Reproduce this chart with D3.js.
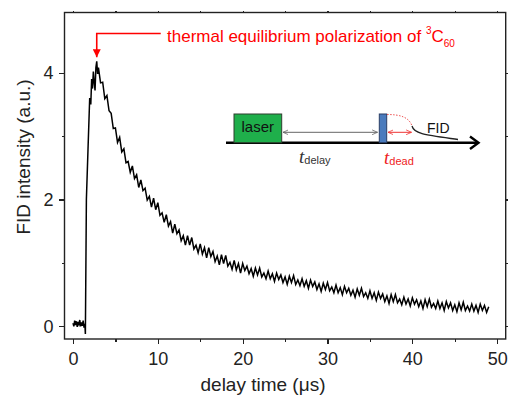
<!DOCTYPE html>
<html lang="en">
<head>
<meta charset="UTF-8">
<title>FID intensity vs delay time</title>
<style>
  body { margin: 0; background: #fff; }
  svg { display: block; font-family: "Liberation Sans", Arial, sans-serif; }
  .axis path { display: none; }
  .axis line { stroke: #222; stroke-width: 1.2; shape-rendering: crispEdges; }
  .axis text { font-size: 18px; fill: #222; }
</style>
</head>
<body>
<svg id="chart"></svg>
<script src="https://cdnjs.cloudflare.com/ajax/libs/d3/7.8.5/d3.min.js"></script>
<script>
// delay time (us) of each sample
var delayTime = [
  0.0, 0.1, 0.2, 0.3, 0.4, 0.5, 0.6, 0.7, 0.8, 0.9, 1.0, 1.1, 1.2, 1.3, 1.4,
  1.46, 1.58, 1.77, 1.97, 2.1, 2.2, 2.3, 2.4, 2.5, 2.6, 2.7, 2.8, 2.9,
  3.0, 3.25, 3.5, 3.75, 4.0, 4.25, 4.5, 4.75, 5.0, 5.25, 5.5, 5.75,
  6.0, 6.25, 6.5, 6.75, 7.0, 7.25, 7.5, 7.75, 8.0, 8.25, 8.5, 8.75,
  9.0, 9.25, 9.5, 9.75, 10.0, 10.25, 10.5, 10.75, 11.0, 11.25, 11.5, 11.75,
  12.0, 12.25, 12.5, 12.75, 13.0, 13.25, 13.5, 13.75, 14.0, 14.25, 14.5, 14.75,
  15.0, 15.25, 15.5, 15.75, 16.0, 16.25, 16.5, 16.75, 17.0, 17.25, 17.5, 17.75,
  18.0, 18.25, 18.5, 18.75, 19.0, 19.25, 19.5, 19.75, 20.0, 20.25, 20.5, 20.75,
  21.0, 21.25, 21.5, 21.75, 22.0, 22.25, 22.5, 22.75, 23.0, 23.25, 23.5, 23.75,
  24.0, 24.25, 24.5, 24.75, 25.0, 25.25, 25.5, 25.75, 26.0, 26.25, 26.5, 26.75,
  27.0, 27.25, 27.5, 27.75, 28.0, 28.25, 28.5, 28.75, 29.0, 29.25, 29.5, 29.75,
  30.0, 30.25, 30.5, 30.75, 31.0, 31.25, 31.5, 31.75, 32.0, 32.25, 32.5, 32.75,
  33.0, 33.25, 33.5, 33.75, 34.0, 34.25, 34.5, 34.75, 35.0, 35.25, 35.5, 35.75,
  36.0, 36.25, 36.5, 36.75, 37.0, 37.25, 37.5, 37.75, 38.0, 38.25, 38.5, 38.75,
  39.0, 39.25, 39.5, 39.75, 40.0, 40.25, 40.5, 40.75, 41.0, 41.25, 41.5, 41.75,
  42.0, 42.25, 42.5, 42.75, 43.0, 43.25, 43.5, 43.75, 44.0, 44.25, 44.5, 44.75,
  45.0, 45.25, 45.5, 45.75, 46.0, 46.25, 46.5, 46.75, 47.0, 47.25, 47.5, 47.75,
  48.0, 48.25, 48.5, 48.75, 49.0
];

// FID intensity (a.u.) at each delay time
var fidSignal = [
  0.05, 0.00, 0.09, 0.02, 0.08, -0.01, 0.07, 0.03, 0.10, 0.00, 0.06, 0.01, 0.09, -0.02, 0.04,
  -0.12, 2.00, 2.79, 3.60, 3.50, 3.90, 3.75, 4.02, 3.85, 3.72, 4.08, 4.18, 3.98,
  4.08, 3.84, 3.85, 3.59, 3.64, 3.40, 3.36, 3.12, 3.13, 2.90, 2.98, 2.75,
  2.80, 2.58, 2.60, 2.43, 2.53, 2.33, 2.39, 2.19, 2.31, 2.14, 2.18, 1.99,
  2.05, 1.88, 2.02, 1.84, 1.95, 1.75, 1.79, 1.64, 1.76, 1.58, 1.65, 1.47,
  1.61, 1.46, 1.52, 1.35, 1.43, 1.28, 1.43, 1.28, 1.40, 1.22, 1.28, 1.16,
  1.30, 1.14, 1.24, 1.08, 1.24, 1.10, 1.18, 1.02, 1.11, 0.97, 1.13, 0.99,
  1.12, 0.95, 1.01, 0.90, 1.04, 0.89, 0.99, 0.84, 0.99, 0.88, 0.95, 0.83,
  0.91, 0.79, 0.92, 0.81, 0.92, 0.78, 0.84, 0.75, 0.87, 0.75, 0.83, 0.71,
  0.84, 0.74, 0.81, 0.69, 0.78, 0.66, 0.79, 0.69, 0.80, 0.66, 0.73, 0.64,
  0.75, 0.63, 0.72, 0.60, 0.73, 0.63, 0.70, 0.58, 0.67, 0.55, 0.68, 0.58,
  0.69, 0.56, 0.62, 0.53, 0.65, 0.53, 0.61, 0.50, 0.63, 0.53, 0.60, 0.49,
  0.57, 0.46, 0.59, 0.49, 0.60, 0.47, 0.53, 0.44, 0.56, 0.44, 0.53, 0.41,
  0.54, 0.44, 0.51, 0.39, 0.48, 0.36, 0.50, 0.39, 0.50, 0.37, 0.43, 0.34,
  0.46, 0.35, 0.43, 0.32, 0.45, 0.35, 0.42, 0.31, 0.40, 0.28, 0.42, 0.31,
  0.43, 0.30, 0.36, 0.28, 0.40, 0.28, 0.37, 0.25, 0.39, 0.29, 0.37, 0.25,
  0.34, 0.23, 0.37, 0.26, 0.38, 0.25, 0.32, 0.24, 0.35, 0.24, 0.33, 0.22,
  0.35, 0.25, 0.33, 0.22, 0.31
];

var xMajorTicks = [0, 10, 20, 30, 40, 50];
var xMinorTicks = [5, 15, 25, 35, 45];
var yMajorTicks = [0, 2, 4];
var yMinorTicks = [1, 3];

var totalWidth = 508,
  totalHeight = 397;
var margin = { top: 12.5, right: 2.3, bottom: 58, left: 64.5 },
  width = totalWidth - margin.left - margin.right,
  height = totalHeight - margin.top - margin.bottom;

var svg = d3.select("#chart")
  .attr("width", totalWidth)
  .attr("height", totalHeight);

var chart = svg.append("g")
  .attr("transform", "translate(" + margin.left + "," + margin.top + ")");

var x = d3.scaleLinear().domain([-1, 51]).range([0, width]);
var y = d3.scaleLinear().domain([-0.2, 4.95]).range([height, 0]);

// axes
chart.append("g")
  .attr("class", "axis")
  .attr("transform", "translate(0," + height + ")")
  .call(d3.axisBottom(x).tickValues(xMajorTicks).tickSize(5).tickPadding(8).tickFormat(d3.format("d")));
chart.append("g")
  .attr("class", "axis")
  .attr("transform", "translate(0," + height + ")")
  .call(d3.axisBottom(x).tickValues(xMinorTicks).tickSize(3).tickFormat(""));
chart.append("g")
  .attr("class", "axis")
  .call(d3.axisTop(x).tickValues(xMajorTicks.concat(xMinorTicks)).tickSize(2).tickFormat(""));

chart.append("g")
  .attr("class", "axis")
  .call(d3.axisLeft(y).tickValues(yMajorTicks).tickSize(6).tickPadding(5).tickFormat(d3.format("d")));
chart.append("g")
  .attr("class", "axis")
  .call(d3.axisLeft(y).tickValues(yMinorTicks).tickSize(3).tickFormat(""));
chart.append("g")
  .attr("class", "axis")
  .attr("transform", "translate(" + width + ",0)")
  .call(d3.axisRight(y).tickValues(yMajorTicks.concat(yMinorTicks)).tickSize(4).tickFormat(""));

// frame
chart.append("rect")
  .attr("width", width)
  .attr("height", height)
  .attr("fill", "none")
  .attr("stroke", "#222")
  .attr("stroke-width", 1.4);

// the FID trace
var points = delayTime.map(function(t, i) { return [t, fidSignal[i]]; });
var line = d3.line()
  .x(function(d) { return x(d[0]); })
  .y(function(d) { return y(d[1]); });

chart.append("path")
  .datum(points)
  .attr("fill", "none")
  .attr("stroke", "#000")
  .attr("stroke-width", 1.5)
  .attr("stroke-linejoin", "miter")
  .attr("d", line);

// axis titles
svg.append("text")
  .attr("x", 263)
  .attr("y", 391)
  .attr("text-anchor", "middle")
  .style("font-size", "19px")
  .style("fill", "#222")
  .text("delay time (\u03BCs)");

svg.append("text")
  .attr("transform", "translate(30,157) rotate(-90)")
  .attr("text-anchor", "middle")
  .style("font-size", "19px")
  .style("fill", "#222")
  .text("FID intensity (a.u.)");

// red annotation pointing at the peak
var defs = svg.append("defs");
defs.append("marker")
  .attr("id", "redHead")
  .attr("viewBox", "0 0 10 10")
  .attr("refX", 10).attr("refY", 5)
  .attr("markerWidth", 5).attr("markerHeight", 5)
  .attr("markerUnits", "strokeWidth")
  .attr("orient", "auto")
  .append("path").attr("d", "M0,0L10,5L0,10z").attr("fill", "#f00");

var peakT = 2.8;
chart.append("path")
  .attr("d", "M" + (x(peakT) + 64) + "," + 21 + "H" + x(peakT) + "V" + (y(4.18) - 4))
  .attr("fill", "none")
  .attr("stroke", "#f00")
  .attr("stroke-width", 1.6)
  .attr("marker-end", "url(#redHead)");

var note = svg.append("text")
  .attr("x", 167)
  .attr("y", 41.5)
  .style("font-size", "17px")
  .style("fill", "#f00");
note.append("tspan").text("thermal equilibrium polarization of ");
note.append("tspan").attr("dy", -8).style("font-size", "10px").text("3");
note.append("tspan").attr("dy", 8).text("C");
note.append("tspan").attr("dy", 5).style("font-size", "10px").text("60");

// inset: pulse sequence sketch
defs.append("marker")
  .attr("id", "grayHead")
  .attr("viewBox", "0 0 10 10")
  .attr("refX", 9).attr("refY", 5)
  .attr("markerWidth", 6).attr("markerHeight", 6)
  .attr("markerUnits", "userSpaceOnUse")
  .attr("orient", "auto-start-reverse")
  .append("path").attr("d", "M0,1L9,5L0,9").attr("fill", "none").attr("stroke", "#666").attr("stroke-width", 1.3);
defs.append("marker")
  .attr("id", "pinkHead")
  .attr("viewBox", "0 0 10 10")
  .attr("refX", 9).attr("refY", 5)
  .attr("markerWidth", 6).attr("markerHeight", 6)
  .attr("markerUnits", "userSpaceOnUse")
  .attr("orient", "auto-start-reverse")
  .append("path").attr("d", "M0,1L9,5L0,9").attr("fill", "none").attr("stroke", "#e33").attr("stroke-width", 1.3);

var inset = svg.append("g").attr("transform", "translate(226,114)");

inset.append("line")
  .attr("x1", 0).attr("y1", 28.7).attr("x2", 252).attr("y2", 28.7)
  .attr("stroke", "#000").attr("stroke-width", 2.4);
inset.append("path")
  .attr("d", "M244,22.5L252.5,28.7L244,35")
  .attr("fill", "none").attr("stroke", "#000").attr("stroke-width", 2.4);

inset.append("rect")
  .attr("x", 8).attr("y", 0).attr("width", 47.7).attr("height", 28.7)
  .attr("fill", "#1faf4b").attr("stroke", "#2f3f2f").attr("stroke-width", 1);
inset.append("text")
  .attr("x", 31.8).attr("y", 18)
  .attr("text-anchor", "middle")
  .style("font-size", "15px")
  .style("fill", "#111")
  .text("laser");

inset.append("line")
  .attr("x1", 57).attr("y1", 18.3).attr("x2", 151.5).attr("y2", 18.3)
  .attr("stroke", "#666").attr("stroke-width", 1)
  .attr("marker-start", "url(#grayHead)")
  .attr("marker-end", "url(#grayHead)");

inset.append("rect")
  .attr("x", 153.3).attr("y", 0).attr("width", 7.4).attr("height", 28.7)
  .attr("fill", "#4a7bbd").attr("stroke", "#2b3f66").attr("stroke-width", 1);

inset.append("line")
  .attr("x1", 162).attr("y1", 18.3).attr("x2", 185.5).attr("y2", 18.3)
  .attr("stroke", "#e33").attr("stroke-width", 1)
  .attr("marker-start", "url(#pinkHead)")
  .attr("marker-end", "url(#pinkHead)");

inset.append("path")
  .attr("d", "M161,0.5C174,0.5 183,3 186,12")
  .attr("fill", "none").attr("stroke", "#e55").attr("stroke-width", 1)
  .attr("stroke-dasharray", "1.5,1.5");
inset.append("path")
  .attr("d", "M186,12C188,20 200,21 232,25.5")
  .attr("fill", "none").attr("stroke", "#222").attr("stroke-width", 1.3);

inset.append("text")
  .attr("x", 201).attr("y", 18.5)
  .style("font-size", "14px")
  .style("fill", "#111")
  .text("FID");

var tDelay = inset.append("text")
  .attr("x", 73).attr("y", 48.5)
  .style("fill", "#333");
tDelay.append("tspan").style("font-family", "'Liberation Serif', serif").style("font-style", "italic").style("font-size", "19px").text("t");
tDelay.append("tspan").attr("dy", 1).style("font-size", "11px").text("delay");

var tDead = inset.append("text")
  .attr("x", 158).attr("y", 49.5)
  .style("fill", "#e22");
tDead.append("tspan").style("font-family", "'Liberation Serif', serif").style("font-style", "italic").style("font-size", "19px").text("t");
tDead.append("tspan").attr("dy", 1).style("font-size", "11px").text("dead");
</script>
</body>
</html>
